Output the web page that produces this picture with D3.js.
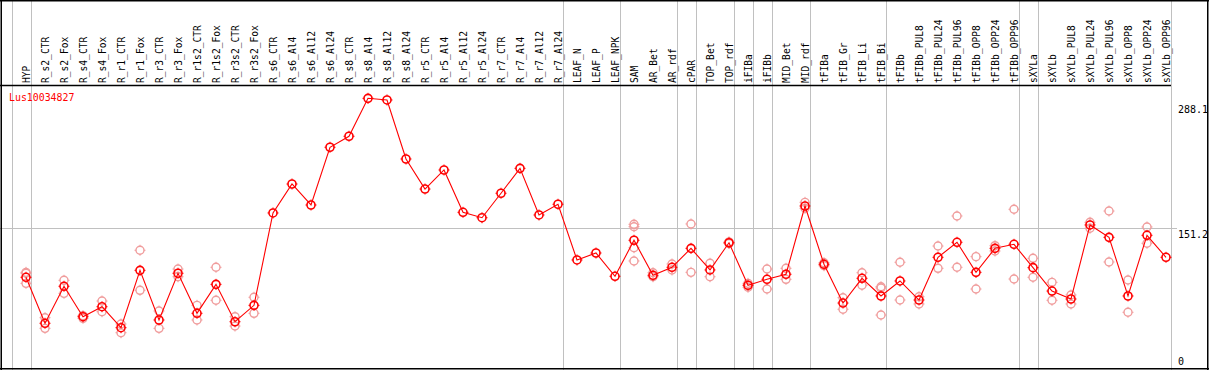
<!DOCTYPE html>
<html>
<head>
<meta charset="utf-8">
<script src="https://cdn.jsdelivr.net/npm/d3@7"></script>
<style>
  body { margin: 0; background: #fff; }
  svg { display: block; }
  text { font-family: "DejaVu Sans Mono", monospace; }
</style>
</head>
<body>
<div id="chart"></div>
<script>
// sample names (columns)
const samples = ['HYP', 'R_s2_CTR', 'R_s2_Fox', 'R_s4_CTR', 'R_s4_Fox', 'R_r1_CTR', 'R_r1_Fox',
    'R_r3_CTR', 'R_r3_Fox', 'R_r1s2_CTR', 'R_r1s2_Fox', 'R_r3s2_CTR', 'R_r3s2_Fox',
    'R_s6_CTR', 'R_s6_Al4', 'R_s6_Al12', 'R_s6_Al24', 'R_s8_CTR', 'R_s8_Al4', 'R_s8_Al12', 'R_s8_Al24',
    'R_r5_CTR', 'R_r5_Al4', 'R_r5_Al12', 'R_r5_Al24', 'R_r7_CTR', 'R_r7_Al4', 'R_r7_Al12', 'R_r7_Al24',
    'LEAF_N', 'LEAF_P', 'LEAF_NPK', 'SAM', 'AR_Bet', 'AR_rdf', 'cPAR', 'TOP_Bet', 'TOP_rdf',
    'iFIBa', 'iFIBb', 'MID_Bet', 'MID_rdf', 'tFIBa', 'tFIB_Gr', 'tFIB_Li', 'tFIB_Bi',
    'tFIBb', 'tFIBb_PUL8', 'tFIBb_PUL24', 'tFIBb_PUL96', 'tFIBb_OPP8', 'tFIBb_OPP24', 'tFIBb_OPP96',
    'sXYLa', 'sXYLb', 'sXYLb_PUL8', 'sXYLb_PUL24', 'sXYLb_PUL96', 'sXYLb_OPP8', 'sXYLb_OPP24', 'sXYLb_OPP96'];

// mean expression per sample
const means = [97.9, 47.7, 88.1, 54.9, 65.8, 42.9, 105.5, 51.3, 102.3, 58.6, 90.2, 49.4, 67.3,
    168.1, 199.7, 176.8, 239.8, 251.8, 293.2, 291.4, 227.0,
    194.2, 215.0, 168.8, 162.9, 189.6, 216.8, 165.9, 177.6,
    116.8, 124.4, 99.0, 138.3, 100.1, 108.8, 129.5, 105.9, 135.6,
    89.2, 95.7, 101.2, 175.7, 112.1, 69.8, 96.8, 77.5,
    93.9, 73.1, 119.7, 136.1, 103.3, 129.5, 133.9,
    108.4, 82.9, 74.2, 155.0, 141.5, 77.5, 143.7, 119.7];

// replicate values per sample
const replicates = [[103.3, 102.3, 91.3], [53.8, 42.2], [94.6, 80.4], [56.0, 53.1], [72.0, 60.3],
    [46.9, 37.4], [127.4, 83.7], [61.1, 42.2], [106.9, 98.5], [67.3, 51.3], [108.8, 72.8],
    [54.9, 44.7], [76.1, 58.6],
    [], [], [], [], [], [], [], [], [], [], [], [], [], [], [], [],
    [], [], [], [155.7, 153.1, 130.2, 115.7], [102.9, 98.5], [112.4, 105.9], [156.1, 103.3],
    [113.2, 98.5], [136.5, 134.8], [91.3, 87.0], [106.9, 85.1], [107.7, 95.7], [179.7, 173.2],
    [113.8, 110.5], [75.6, 63.0], [102.9, 89.2], [87.6, 86.2, 56.7],
    [114.3, 73.1], [76.7, 68.8], [132.0, 107.7], [164.8, 108.8], [120.4, 85.1], [132.4, 126.6],
    [172.1, 96.0], [118.6, 97.9], [92.4, 72.8], [78.6, 68.8], [157.9, 151.4], [170.2, 114.6],
    [94.9, 59.7], [152.8, 135.0], []];

// group separators come after these sample indices (-1 = before the first)
const groupEnds = [-1, 0, 28, 31, 34, 35, 37, 38, 39, 41, 45, 52, 53, 60];

const yTicks = [0, 151.2, 288.1];
const refLines = [151.2];
const geneName = 'Lus10034827';

const W = 1209, H = 370;
const headerY = 85;

const svg = d3.select('#chart').append('svg')
    .attr('width', W)
    .attr('height', H);

const x = d3.scalePoint()
    .domain(samples)
    .range([26, 1166]);

const y = d3.scaleLinear()
    .domain([0, 288.1])
    .range([367, 103]);

const sepX = i => i < 0 ? x(samples[0]) - 14 : x(samples[i]) + 5;

// vertical separators
svg.selectAll('.sep')
    .data(groupEnds)
    .join('line')
    .attr('class', 'sep')
    .attr('x1', d => Math.round(sepX(d)) + 0.5)
    .attr('x2', d => Math.round(sepX(d)) + 0.5)
    .attr('y1', 0)
    .attr('y2', H)
    .attr('stroke', '#c0c0c0')
    .attr('stroke-width', 1);

// horizontal reference line
svg.selectAll('.ref')
    .data(refLines)
    .join('line')
    .attr('class', 'ref')
    .attr('x1', 0)
    .attr('x2', 1177)
    .attr('y1', d => Math.round(y(d)) + 0.5)
    .attr('y2', d => Math.round(y(d)) + 0.5)
    .attr('stroke', '#c0c0c0');

// frame
svg.append('line').attr('x1', 0).attr('x2', W).attr('y1', 0.75).attr('y2', 0.75)
    .attr('stroke', '#000').attr('stroke-width', 1.5);
svg.append('line').attr('x1', 1.25).attr('x2', 1.25).attr('y1', 0).attr('y2', H)
    .attr('stroke', '#000').attr('stroke-width', 1.5);
svg.append('line').attr('x1', 0).attr('x2', W).attr('y1', 368.75).attr('y2', 368.75)
    .attr('stroke', '#000').attr('stroke-width', 1.5);
svg.append('line').attr('x1', 1207.75).attr('x2', 1207.75).attr('y1', 0).attr('y2', H)
    .attr('stroke', '#000').attr('stroke-width', 1.5);
svg.append('line').attr('x1', 0).attr('x2', sepX(samples.length - 1)).attr('y1', headerY + 0.5).attr('y2', headerY + 0.5)
    .attr('stroke', '#000').attr('stroke-width', 1.3);

// column labels
svg.selectAll('.col-label')
    .data(samples)
    .join('text')
    .attr('class', 'col-label')
    .attr('transform', d => `translate(${x(d) + 3.5}, ${headerY - 2}) rotate(-90)`)
    .attr('font-size', '9.6px')
    .attr('fill', '#000')
    .text(d => d);

// y labels on the right
svg.selectAll('.y-label')
    .data(yTicks)
    .join('text')
    .attr('class', 'y-label')
    .attr('x', 1178)
    .attr('y', d => Math.min(y(d) + 9.5, 365))
    .attr('font-size', '10px')
    .attr('fill', '#000')
    .text(d => d === 0 ? '0' : d.toFixed(1));

svg.append('text')
    .attr('x', 9)
    .attr('y', 100.5)
    .attr('font-size', '9.9px')
    .attr('fill', '#ff0000')
    .text(geneName);

// small circle marker with ticks
function marker(g, color, sw) {
    g.append('circle')
        .attr('r', 4)
        .attr('fill', 'none')
        .attr('stroke', color)
        .attr('stroke-width', sw);
    g.append('path')
        .attr('d', 'M0,-5.5V-4M0,4V5.5M-5.5,0H-4M4,0H5.5')
        .attr('stroke', color)
        .attr('stroke-width', 1);
}

// replicates
const repData = [];
replicates.forEach((arr, i) => arr.forEach(v => repData.push({ s: samples[i], v: v })));

svg.selectAll('.rep')
    .data(repData)
    .join('g')
    .attr('class', 'rep')
    .attr('transform', d => `translate(${x(d.s)}, ${y(d.v)})`)
    .each(function() { marker(d3.select(this), '#f09c9c', 1.4); });

// mean line
const line = d3.line()
    .x((d, i) => x(samples[i]))
    .y(d => y(d));

svg.append('path')
    .datum(means)
    .attr('d', line)
    .attr('fill', 'none')
    .attr('stroke', '#ff0000')
    .attr('stroke-width', 1.1);

svg.selectAll('.mean')
    .data(means)
    .join('g')
    .attr('class', 'mean')
    .attr('transform', (d, i) => `translate(${x(samples[i])}, ${y(d)})`)
    .each(function() { marker(d3.select(this), '#ff0000', 1.6); });
</script>
</body>
</html>
